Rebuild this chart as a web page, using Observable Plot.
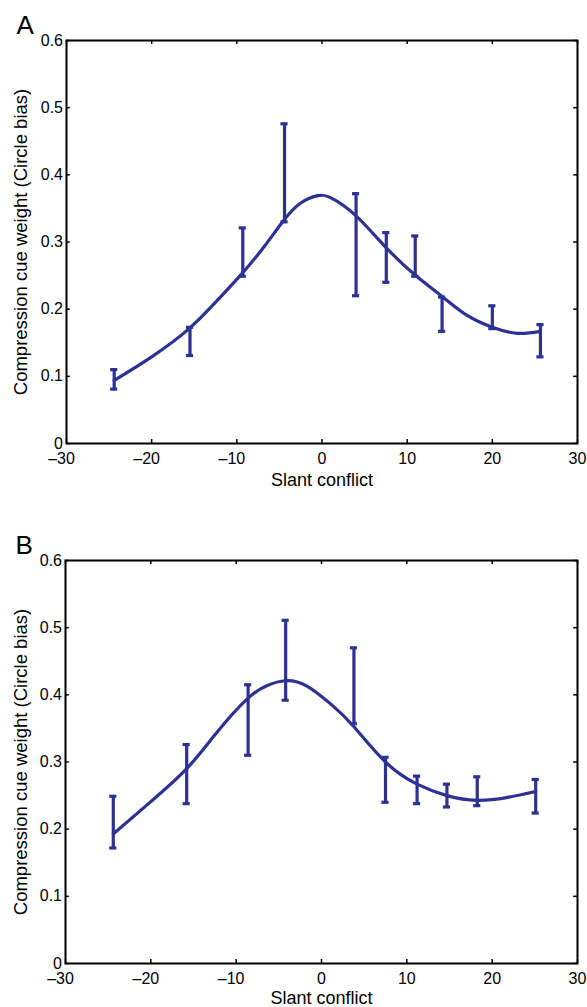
<!DOCTYPE html>
<html><head><meta charset="utf-8">
<script src="https://cdn.jsdelivr.net/npm/d3@7"></script>
<script src="https://cdn.jsdelivr.net/npm/@observablehq/plot@0.6"></script>
<style>
body{margin:0;background:#fff;}
#chart{width:587px;}
#chart svg{display:block;overflow:visible;}
</style></head><body><div id="chart"></div>
<script>
const xTicks = [-30, -20, -10, 0, 10, 20, 30];
const yTicks = [0, 0.1, 0.2, 0.3, 0.4, 0.5, 0.6];
const xLabel = "Slant conflict";
const yLabel = "Compression cue weight (Circle bias)";
const panelLabels = ["A", "B"];

// Panel A – error bars
const barXA  = [-24.4, -15.5, -9.3, -4.4, 4.0, 7.55, 10.95, 14.1, 20.0, 25.65];
const barLoA = [0.081, 0.131, 0.249, 0.330, 0.220, 0.240, 0.249, 0.167, 0.171, 0.129];
const barHiA = [0.110, 0.173, 0.321, 0.476, 0.372, 0.314, 0.309, 0.218, 0.205, 0.177];
// Panel A – fitted curve
const curveXA = [-24.4, -20, -15.6, -12.3, -9.4, -6.8, -4.5, -2.5, -0.5, 1.0, 3.9, 7.5, 11.0, 14.1, 17.0, 20.0, 22.9, 25.65];
const curveYA = [0.094, 0.129, 0.171, 0.213, 0.253, 0.293, 0.332, 0.358, 0.369, 0.366, 0.340, 0.292, 0.250, 0.219, 0.191, 0.173, 0.164, 0.167];

// Panel B – error bars
const barXB  = [-24.4, -15.8, -8.6, -4.2, 3.8, 7.5, 11.2, 14.7, 18.25, 25.1];
const barLoB = [0.172, 0.238, 0.310, 0.392, 0.357, 0.240, 0.238, 0.233, 0.235, 0.224];
const barHiB = [0.249, 0.326, 0.415, 0.511, 0.470, 0.307, 0.279, 0.267, 0.278, 0.274];
// Panel B – fitted curve
const curveXB = [-24.4, -20, -15.8, -12.2, -8.7, -6.35, -4.2, -1.7, 1.2, 3.7, 7.5, 11.2, 14.7, 18.2, 21.7, 25.1];
const curveYB = [0.193, 0.241, 0.290, 0.345, 0.394, 0.414, 0.421, 0.413, 0.385, 0.354, 0.300, 0.267, 0.250, 0.243, 0.247, 0.256];

const blue = "#2d3194";
const fontFamily = "'Liberation Sans', Arial, Helvetica, sans-serif";
const fmtX = d => d < 0 ? "\u2013" + Math.abs(d) : String(d);
const fmtY = d => d === 0 ? "0" : d.toFixed(1);

function panel(letter, bx, blo, bhi, cx, cy, m) {
  const bars = bx.map((x, i) => ({x, lo: blo[i], hi: bhi[i]}));
  const curve = cx.map((x, i) => ({x, y: cy[i]}));
  const capHalf = 0.42;
  return Plot.plot({
    width: 587, height: m.height,
    marginTop: m.top, marginBottom: m.bottom, marginLeft: m.left, marginRight: m.right,
    style: {fontFamily, fontSize: "16px", color: "#000", background: "#fff"},
    x: {domain: [-30, 30], axis: null},
    y: {domain: [0, 0.6], axis: null},
    marks: [
      Plot.line(curve, {x: "x", y: "y", curve: "natural", stroke: blue, strokeWidth: 3.2}),
      Plot.ruleX(bars, {x: "x", y1: "lo", y2: "hi", stroke: blue, strokeWidth: 3.2}),
      Plot.ruleY(bars, {y: "lo", x1: d => d.x - capHalf, x2: d => d.x + capHalf, stroke: blue, strokeWidth: 3.2}),
      Plot.ruleY(bars, {y: "hi", x1: d => d.x - capHalf, x2: d => d.x + capHalf, stroke: blue, strokeWidth: 3.2}),
      // inward ticks on all four sides
      Plot.ruleX(xTicks, {x: d => d, y1: 0, y2: 0.006, stroke: "#000", strokeWidth: 1.5}),
      Plot.ruleX(xTicks, {x: d => d, y1: 0.6, y2: 0.594, stroke: "#000", strokeWidth: 1.5}),
      Plot.ruleY(yTicks, {y: d => d, x1: -30, x2: -29.55, stroke: "#000", strokeWidth: 1.5}),
      Plot.ruleY(yTicks, {y: d => d, x1: 30, x2: 29.55, stroke: "#000", strokeWidth: 1.5}),
      Plot.frame({stroke: "#000", strokeWidth: 2}),
      // tick labels
      Plot.text(yTicks, {x: -30, y: d => d, text: fmtY, textAnchor: "end", dx: -3.5, fontSize: 16, fill: "#000"}),
      Plot.text(xTicks.filter(d => d < 0), {x: d => d, y: 0, text: fmtX, lineAnchor: "top", dy: 8.7, dx: -5, fontSize: 16, fill: "#000"}),
      Plot.text(xTicks.filter(d => d >= 0), {x: d => d, y: 0, text: fmtX, lineAnchor: "top", dy: 8.7, fontSize: 16, fill: "#000"}),
      // axis titles
      Plot.text([xLabel], {text: d => d, frameAnchor: "bottom", textAnchor: "middle", lineAnchor: "top", dy: m.xLabelDy, fontSize: 18, fill: "#000"}),
      Plot.text([yLabel], {text: d => d, frameAnchor: "left", textAnchor: "middle", rotate: -90, lineAnchor: "top", dx: 13 - m.left, fontSize: 18.5, fill: "#000"}),
      // panel letter
      Plot.text([letter], {text: d => d, frameAnchor: "top-left", textAnchor: "start", lineAnchor: "bottom", dx: m.letterX - m.left, dy: m.letterY - m.top, fontSize: 26, fill: "#000"})
    ]
  });
}

const root = document.getElementById("chart");
root.appendChild(panel(panelLabels[0], barXA, barLoA, barHiA, curveXA, curveYA,
  {height: 500, top: 40, bottom: 57, left: 66, right: 10, letterX: 16, letterY: 33, xLabelDy: 29.5}));
root.appendChild(panel(panelLabels[1], barXB, barLoB, barHiB, curveXB, curveYB,
  {height: 507, top: 60, bottom: 44, left: 65, right: 10, letterX: 15, letterY: 53.5, xLabelDy: 27.5}));
</script>
</body></html>
